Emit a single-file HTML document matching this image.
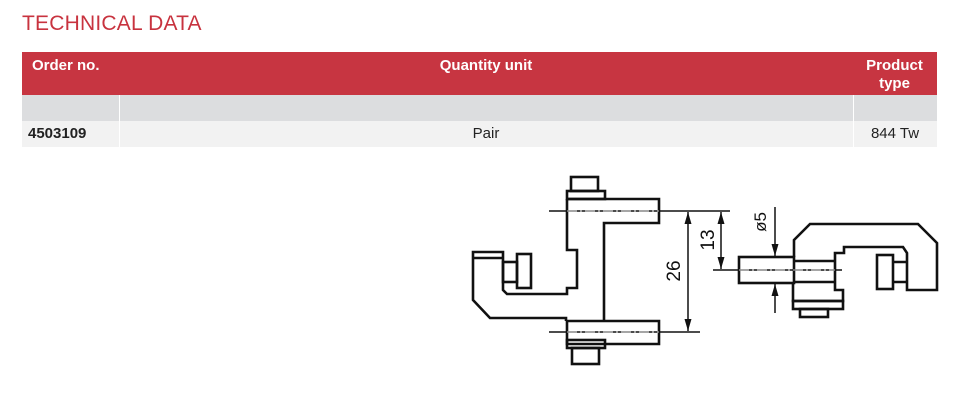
<!DOCTYPE html>
<html><head><meta charset="utf-8"><style>
body{margin:0;width:980px;height:412px;background:#fff;position:relative;overflow:hidden;font-family:"Liberation Sans",sans-serif}
.t{position:absolute;left:22px;top:12px;font-size:21px;color:#c8333f;letter-spacing:0.2px}
.tb{position:absolute;left:22px;top:52px;width:915px}
.hd{position:absolute;left:0;top:0;width:915px;height:43px;background:#c73541;color:#fff;font-weight:bold;font-size:15px}
.r1{position:absolute;left:0;top:43px;width:915px;height:26px;background:#dcdddf}
.r2{position:absolute;left:0;top:69px;width:915px;height:26px;background:#f2f2f2;font-size:15px;color:#222}
.v{position:absolute;top:43px;width:1px;height:52px;background:#fff}
</style></head><body>
<div class="t">TECHNICAL DATA</div>
<div class="tb">
<div class="hd">
<div style="position:absolute;left:10px;top:5px">Order no.</div>
<div style="position:absolute;left:0;width:928px;top:5px;text-align:center">Quantity unit</div>
<div style="position:absolute;left:830px;width:85px;top:5px;text-align:center;line-height:18px">Product<br>type</div>
</div>
<div class="r1"></div>
<div class="r2">
<div style="position:absolute;left:6px;top:4px;font-weight:bold">4503109</div>
<div style="position:absolute;left:0;width:928px;top:4px;text-align:center">Pair</div>
<div style="position:absolute;left:831px;width:84px;top:4px;text-align:center">844 Tw</div>
</div>
<div class="v" style="left:97px"></div>
<div class="v" style="left:831px"></div>
</div>
<svg width="980" height="412" style="position:absolute;left:0;top:0" fill="none" stroke="#111">
<defs><marker id="a" markerWidth="12" markerHeight="8" refX="0" refY="0" orient="auto-start-reverse" markerUnits="userSpaceOnUse" viewBox="-12 -4 12 8"><path d="M0 0 L-12 -3.5 L-12 3.5Z" fill="#111" stroke="none"/></marker></defs>
<g stroke-width="2.6" stroke-linejoin="miter">
<rect x="571" y="177" width="27" height="14"/>
<rect x="567" y="191" width="38" height="8"/>
<path d="M567 199 H659 V223 H604 V321"/>
<path d="M567 199 V250 H577 V288 H567 V294 H507 L503 290 V252 H473 V300 L490 318 H566 V321"/>
<path d="M473 258 H503"/>
<rect x="503" y="262" width="14" height="20"/>
<rect x="517" y="254" width="14" height="34"/>
<path d="M567 321 H659 V344 H567 Z"/>
<rect x="567" y="340" width="38" height="8"/>
<rect x="572" y="348" width="27" height="16"/>
<rect x="739" y="257" width="55" height="26"/>
<path d="M794 257 V240 L810 224 H918 L937 243 V290 H907 V253 L903 247 H844 V253 H835 V290 H843 V301 H793 V283"/>
<path d="M794 261 H835 M794 282 H835"/>
<rect x="793" y="301" width="50" height="8"/>
<rect x="800" y="309" width="28" height="8"/>
<rect x="877" y="255" width="16" height="34"/>
<path d="M893 262 H907 M893 282 H907"/>
</g>
<g stroke-width="1.5">
<path d="M549 211 H730 M549 332 H700 M713 270 H842" />
<path d="M567 211 H659 M567 332 H659 M739 270 H835" stroke-dasharray="10 3 2 3" stroke="#fff" stroke-width="0.8"/>
<path d="M688 212 V331" marker-start="url(#a)" marker-end="url(#a)"/>
<path d="M721 212 V269" marker-start="url(#a)" marker-end="url(#a)"/>
<path d="M775 207 V256" marker-end="url(#a)"/>
<path d="M775 313 V284" marker-end="url(#a)"/>
</g>
<g fill="#111" stroke="none" font-family="Liberation Sans,sans-serif" font-size="19">
<text transform="translate(680,271) rotate(-90)" text-anchor="middle">26</text>
<text transform="translate(714,240) rotate(-90)" text-anchor="middle">13</text>
<text transform="translate(766,222) rotate(-90)" text-anchor="middle" font-size="17">ø5</text>
</g>
</svg>
</body></html>
